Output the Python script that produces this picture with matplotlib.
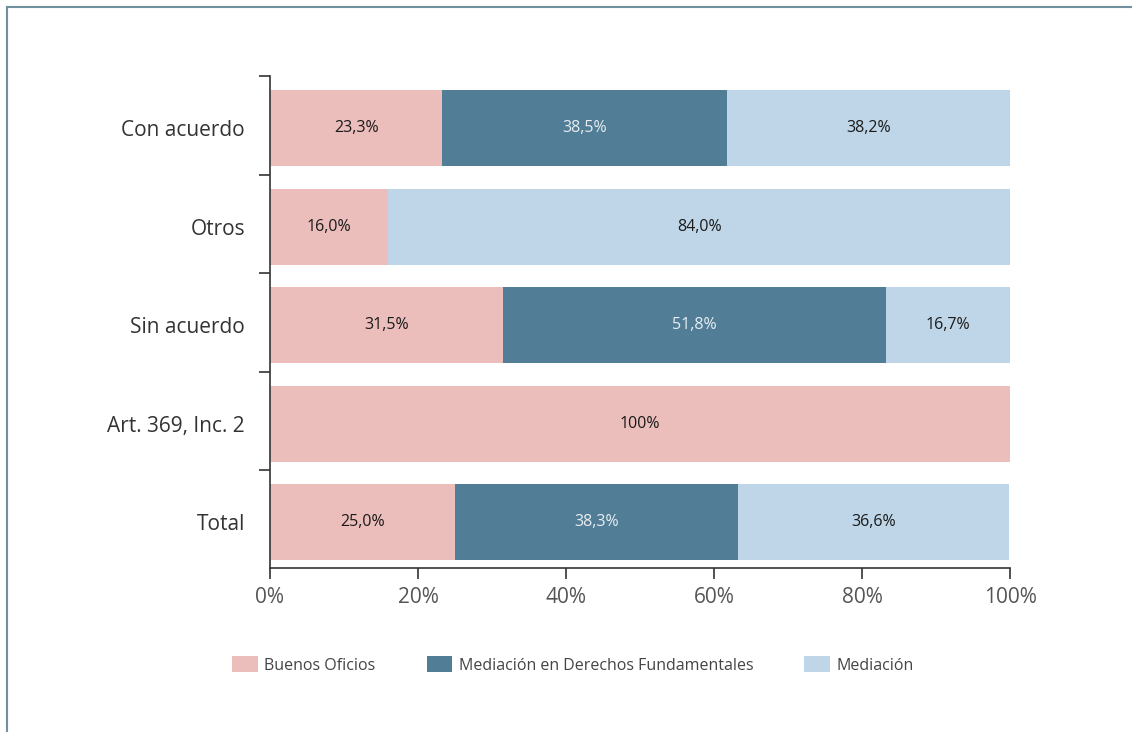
import matplotlib.pyplot as plt
from matplotlib.lines import Line2D
from matplotlib.patches import Patch
import matplotlib.ticker as ticker

categories = ['Con acuerdo', 'Otros', 'Sin acuerdo', 'Art. 369, Inc. 2', 'Total']
buenos_oficios = [23.3, 16.0, 31.5, 100.0, 25.0]
mediacion_ddff = [38.5, 0.0, 51.8, 0.0, 38.3]
mediacion = [38.2, 84.0, 16.7, 0.0, 36.6]
series_names = ['Buenos Oficios', 'Mediación en Derechos Fundamentales', 'Mediación']
colors = ['#ebbdbb', '#527d96', '#bed6e8']
text_colors = ['#1a1a1a', '#e8eef2', '#1a1a1a']

plt.rcParams['font.family'] = ['Open Sans', 'DejaVu Sans']

fig = plt.figure(figsize=(11.32, 7.32), dpi=100)
# axes box: x 270..1010 px, y 76..568 px
ax = fig.add_axes([270 / 1132, 1 - 568 / 732, 740 / 1132, 492 / 732])

ypos = list(range(len(categories)))
left = [0.0] * len(categories)
for vals, col, tcol in zip([buenos_oficios, mediacion_ddff, mediacion], colors, text_colors):
    ax.barh(ypos, vals, left=left, height=0.77, color=col, linewidth=0)
    for i, v in enumerate(vals):
        if v > 0:
            lab = '100%' if v == 100 else f'{v:.1f}%'.replace('.', ',')
            ax.text(left[i] + v / 2, i, lab, ha='center', va='center',
                    fontsize=11.5, color=tcol)
    left = [l + v for l, v in zip(left, vals)]

ax.set_xlim(0, 100)
ax.set_ylim(4.464, -0.528)
ax.xaxis.set_major_locator(ticker.MultipleLocator(20))
ax.xaxis.set_major_formatter(ticker.FuncFormatter(lambda x, p: f'{x:.0f}%'))
ax.set_yticks(ypos)
ax.set_yticklabels(categories)
ax.set_yticks([i - 0.528 for i in range(len(categories))], minor=True)
ax.tick_params(axis='y', which='major', length=0, pad=18, labelsize=15, labelcolor='#333333')
ax.tick_params(axis='y', which='minor', length=8, width=1.2, color='#333333')
ax.tick_params(axis='x', length=8, width=1.2, color='#333333', pad=6,
               labelsize=15, labelcolor='#555555')
for s in ['top', 'right']:
    ax.spines[s].set_visible(False)
for s in ['left', 'bottom']:
    ax.spines[s].set_linewidth(1.2)
    ax.spines[s].set_color('#333333')

handles = [Patch(facecolor=c, edgecolor='none') for c in colors]
fig.legend(handles, series_names, loc='center', bbox_to_anchor=(573 / 1132, 1 - 665 / 732),
           ncol=3, frameon=False, fontsize=11.5, handlelength=1.6, handleheight=1.1,
           handletextpad=0.4, columnspacing=3.2, labelcolor='#444444')

# page frame
fig.add_artist(Line2D([7 / 1132, 1], [1 - 7 / 732, 1 - 7 / 732], color='#7090a0', linewidth=1.5))
fig.add_artist(Line2D([7 / 1132, 7 / 1132], [0, 1 - 7 / 732], color='#7090a0', linewidth=1.5))

fig.savefig('out.png', dpi=100)
